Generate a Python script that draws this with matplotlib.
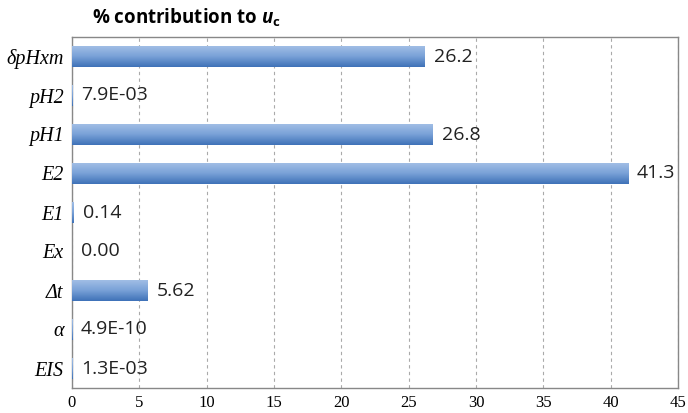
import numpy as np
import matplotlib
matplotlib.use('Agg')
import matplotlib.pyplot as plt
from matplotlib.colors import LinearSegmentedColormap

# data (top to bottom)
labels = ['δpHxm', 'pH2', 'pH1', 'E2', 'E1', 'Ex', 'Δt', 'α', 'EIS']
values = [26.2, 7.9e-3, 26.8, 41.3, 0.14, 0.0, 5.62, 4.9e-10, 1.3e-3]
value_text = ['26.2', '7.9E-03', '26.8', '41.3', '0.14', '0.00', '5.62',
              '4.9E-10', '1.3E-03']
xticks = [0, 5, 10, 15, 20, 25, 30, 35, 40, 45]

fig = plt.figure(figsize=(6.88, 4.13), dpi=100)
ax = fig.add_axes([72/688, 1 - 388/413, (678 - 72)/688, (388 - 37)/413])

n = len(values)
ypos = np.arange(n)[::-1]
bars = ax.barh(ypos, values, height=0.56, color='#6a96d2', zorder=2)

# vertical gradient on each bar
cmap = LinearSegmentedColormap.from_list('bl', ['#a4c0e6', '#7aa2d8', '#3f72b8'])
grad = np.linspace(0, 1, 64).reshape(-1, 1)
for b in bars:
    x0, y0 = b.get_x(), b.get_y()
    w, h = b.get_width(), b.get_height()
    if w <= 0:
        continue
    im = ax.imshow(grad, cmap=cmap, aspect='auto', zorder=3,
                   extent=(x0, x0 + w, y0, y0 + h), origin='upper')
    im.set_clip_path(b)

for yp, v, t in zip(ypos, values, value_text):
    ax.text(v + 0.65, yp, t, va='center', ha='left', fontsize=14,
            family='Open Sans', color='#222222', zorder=4)

ax.set_xlim(0, 45)
ax.set_ylim(-0.5, n - 0.5)
ax.set_xticks(xticks)
ax.set_xticklabels([str(t) for t in xticks], family='Liberation Serif',
                   fontsize=12)
ax.set_yticks(ypos)
ax.set_yticklabels(labels, fontsize=14.5, family='Liberation Serif',
                   fontstyle='italic')
ax.tick_params(axis='y', length=0, pad=6)
ax.tick_params(axis='x', length=0, pad=5)

ax.grid(axis='x', linestyle=(0, (3, 3)), color='#aaaaaa', linewidth=0.8,
        zorder=1)
for s in ax.spines.values():
    s.set_color('#888888')
    s.set_linewidth(1.0)

plt.rcParams['mathtext.fontset'] = 'custom'
plt.rcParams['mathtext.bf'] = 'Open Sans:bold'
plt.rcParams['mathtext.it'] = 'Open Sans:italic:bold'
fig.text(92/688, 1 - 18/413, r'% contribution to $\mathit{u}_{\mathbf{c}}$',
         fontsize=13.5, fontweight='bold', family='Open Sans', va='center',
         ha='left')

fig.savefig('out.png', dpi=100)
